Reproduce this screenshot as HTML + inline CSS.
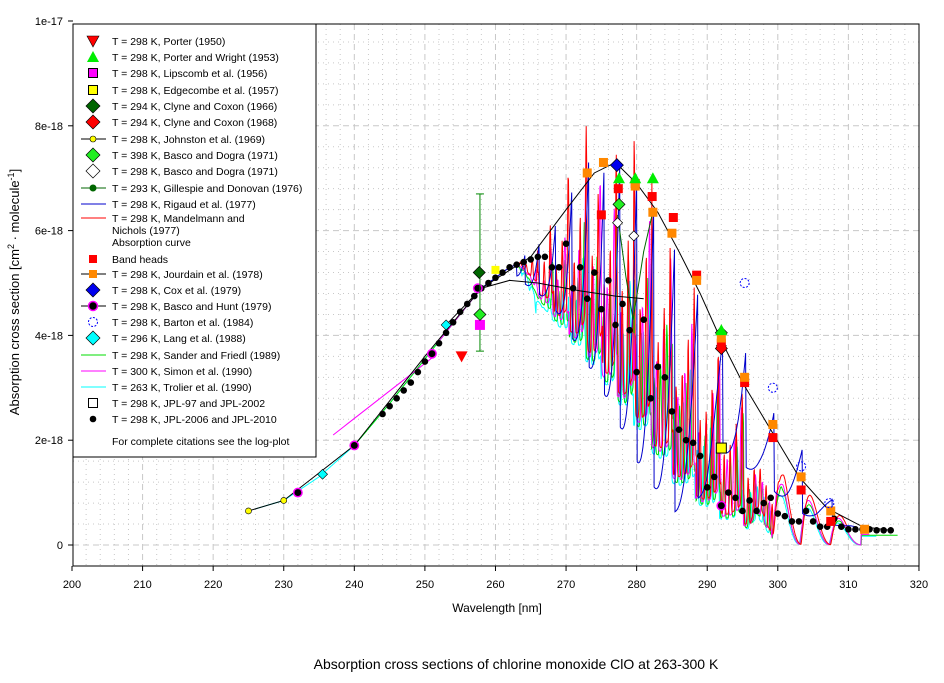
<!DOCTYPE html>
<html><head><meta charset="utf-8">
<style>
html,body{margin:0;padding:0;background:#fff;}
svg text{font-family:"Liberation Sans",Arial,sans-serif;}
</style></head>
<body>
<svg id="s" width="944" height="678" viewBox="0 0 944 678" xmlns="http://www.w3.org/2000/svg">
<rect width="944" height="678" fill="#fff"/>
<g id="grid"></g>
<g id="data"></g>
<rect x="73" y="24" width="846" height="542" fill="none" stroke="#000" stroke-width="1"/>
<g id="axes" font-size="11"></g>
<text x="497" y="612" font-size="12" text-anchor="middle">Wavelength [nm]</text>
<text transform="translate(19,292) rotate(-90)" font-size="13" text-anchor="middle">Absorption cross section [cm<tspan dy="-5" font-size="9">2</tspan><tspan dy="5"> · molecule</tspan><tspan dy="-5" font-size="9">-1</tspan><tspan dy="5">]</tspan></text>
<text x="516" y="669" font-size="14" text-anchor="middle">Absorption cross sections of chlorine monoxide ClO at 263-300 K</text>
<g id="legend" font-size="10.5"></g>
</svg>
<script>
var NS="http://www.w3.org/2000/svg";
function X(n){return 72+(n-200)*7.058;}
function Y(v){return 545-v*52.4;}
function el(p,t,a,txt){var e=document.createElementNS(NS,t);for(var k in a)e.setAttribute(k,a[k]);if(txt!==undefined)e.textContent=txt;document.getElementById(p).appendChild(e);return e;}
for(var n=202;n<320;n+=2){var maj=(n%10==0);el("grid","line",{x1:X(n),x2:X(n),y1:24,y2:566,stroke:"#c8c8c8","stroke-dasharray":maj?"6,4":"1,4","stroke-width":1});}
for(var v=-0.4;v<10;v+=0.4){var vv=Math.round(v*10)/10;var maj=Math.abs(vv/2-Math.round(vv/2))<0.01;el("grid","line",{x1:73,x2:919,y1:Y(vv),y2:Y(vv),stroke:"#c8c8c8","stroke-dasharray":maj?"6,4":"1,4"});}
for(var n=200;n<=320;n+=10){el("axes","line",{x1:X(n),x2:X(n),y1:566,y2:571,stroke:"#000"});el("axes","text",{x:X(n),y:588,"text-anchor":"middle"},String(n));}
[[0,"0"],[2,"2e-18"],[4,"4e-18"],[6,"6e-18"],[8,"8e-18"],[10,"1e-17"]].forEach(function(a){el("axes","line",{x1:68,x2:73,y1:Y(a[0]),y2:Y(a[0]),stroke:"#000"});el("axes","text",{x:63,y:Y(a[0])+4,"text-anchor":"end"},a[1]);});
var T=[[225,.65],[230,.85],[235,1.3],[240,1.9],[245,2.7],[250,3.55],[255,4.4],[258,4.9],[262,5.3],[266,5.5],[270,5.35],[274,5.0],[278,4.3],[281,3.4],[284,2.6],[287,2.0],[289,1.5],[291,1.0],[295,0.8],[300,0.6],[303,0.45],[306,0.4],[310,0.35],[316,0.28]];
function tab(A,n){if(n<=A[0][0])return A[0][1];for(var i=0;i<A.length-1;i++){if(n<=A[i+1][0]){var t=(n-A[i][0])/(A[i+1][0]-A[i][0]);return A[i][1]+t*(A[i+1][1]-A[i][1]);}}return A[A.length-1][1];}
function base(n){return tab(T,n);}
var UP=[[262,5.5],[266,6.0],[270,7.6],[273,8.4],[277,8.4],[280,8.2],[283,7.2],[286,6.3],[288.5,5.4],[292,4.1],[296,3.0],[299.5,2.1],[303.5,1.4],[307.5,0.9],[312,0.4]];
var LO=[[262,5.2],[266,4.7],[270,3.8],[275,2.8],[280,1.8],[285,0.8],[290,0.3],[295,0.1],[300,0.02],[312,0.0]];
var heads=[262,264,266,268.3,270.6,273,275.2,277.4,279.8,282.2,285.2,288.5,292,295.3,299.3,303.3,307.5,312];
function bandT(n){for(var i=0;i<heads.length-1;i++){if(n>=heads[i]&&n<heads[i+1])return (n-heads[i])/(heads[i+1]-heads[i]);}return 0.5;}
function spectrum(n,ph,per,amp,sh){var t=bandT(n+ph);var e=0.4+0.6*Math.pow(t,2);
 var sp=0.25+0.75*Math.pow(0.5+0.5*Math.cos(2*Math.PI*(n+ph)/per),sh);
 var w=Math.min(1,Math.max(0,(n-296)/5));var hump=Math.pow(Math.sin(Math.PI*Math.pow(t,0.6)),2);
 var u=tab(UP,n)*amp,l=tab(LO,n);
 return (1-w)*(l+(u-l)*e*sp)+w*(l+(u*0.75-l)*hump);}
function series(col,start,end,ph,per,amp,sh){var d="";for(var n=start;n<=end;n+=0.06){var v;if(n<263)v=base(n);else{var m=Math.min(1,(n-263)/3);v=(1-m)*base(n)+m*spectrum(n,ph,per,amp,sh);}d+=(d?"L":"M")+X(n).toFixed(1)+","+Y(Math.max(v,0)).toFixed(1);}el("data","path",{d:d,fill:"none",stroke:col,"stroke-width":1});}
series("#00ffff",226,314,0.25,0.95,0.72,3);
series("#00dd00",240,317,0.12,0.9,0.8,3);
series("#ff00ff",252,313,0.18,1.0,0.88,3);
series("#ff0000",262,310,0.0,0.85,1.0,4);
var d="";for(var n=237;n<=251;n+=0.5){var v=2.1+(n-237)*0.105;d+=(d?"L":"M")+X(n)+","+Y(v);}el("data","path",{d:d,fill:"none",stroke:"#ff00ff"});
var UPB=[[262,5.3],[268,6.0],[273,7.3],[277,7.3],[280,7.0],[282,6.5],[285,5.9],[288.5,5.0],[292,4.0],[295.5,3.76],[299.3,2.6],[303.5,1.85],[307.5,0.9],[311,0.4]];
var LOB=[[262,5.2],[268,4.6],[275,3.0],[280,1.6],[285,0.6],[290,1.0],[292,1.8],[297.5,1.3],[301.5,0.75],[305.5,0.45],[311,0.3]];
d="";for(var n=258;n<=311;n+=0.08){var v;if(n<263)v=base(n);else{var t=bandT(n-0.2);v=tab(LOB,n)+(tab(UPB,n)-tab(LOB,n))*Math.pow(t,2.5);}d+=(d?"L":"M")+X(n).toFixed(1)+","+Y(v).toFixed(1);}
el("data","path",{d:d,fill:"none",stroke:"#0000cc"});
var gp=[[277.3,6.3],[278.5,5.1],[279.5,4.3],[281,5.6],[282.2,6.3]];
d="";gp.forEach(function(p){d+=(d?"L":"M")+X(p[0])+","+Y(p[1]);});el("data","path",{d:d,fill:"none",stroke:"#060"});
var k1=[[253,4.2],[258,4.9],[262,5.05],[266,5.0],[272,4.85],[277,4.75],[281,4.7]];
d="";k1.forEach(function(p){d+=(d?"L":"M")+X(p[0])+","+Y(p[1]);});el("data","path",{d:d,fill:"none",stroke:"#000"});
var k2=[[225,.65],[230,.85],[240,1.9],[250,3.6],[258,4.9],[265,5.5],[270,6.4],[274,7.1],[277,7.3],[280,6.9],[283,6.35],[286,5.6],[289,4.8],[292,3.9],[295,3.1],[299,2.2],[303,1.3],[307,0.7],[312,0.35],[316,0.28]];
d="";k2.forEach(function(p){d+=(d?"L":"M")+X(p[0])+","+Y(p[1]);});el("data","path",{d:d,fill:"none",stroke:"#000"});
var jd=[[232,1.0],[235.5,1.35],[240,1.9],[244,2.5],[245,2.65],[246,2.8],[247,2.95],[248,3.1],[249,3.3],[250,3.5],[251,3.65],[252,3.85],[253,4.05],[254,4.25],[255,4.45],[256,4.6],[257,4.75],[258,4.9],[259,5.0],[260,5.1],[261,5.2],[262,5.3],[263,5.35],[264,5.4],[265,5.45],[266,5.5],[267,5.5],[268,5.3],[269,5.3],[270,5.75],[271,4.9],[272,5.3],[273,4.7],[274,5.2],[275,4.5],[276,5.05],[277,4.2],[278,4.6],[279,4.1],[280,3.3],[281,4.3],[282,2.8],[283,3.4],[284,3.2],[285,2.55],[286,2.2],[287,2.0],[288,1.95],[289,1.7],[290,1.1],[291,1.3],[292,0.75],[293,1.0],[294,0.9],[295,0.65],[296,0.85],[297,0.65],[298,0.8],[299,0.9],[300,0.6],[301,0.55],[302,0.45],[303,0.45],[304,0.65],[305,0.45],[306,0.35],[307,0.35],[308,0.5],[309,0.35],[310,0.3],[311,0.3],[312,0.3],[313,0.3],[314,0.28],[315,0.28],[316,0.28]];
jd.forEach(function(p){el("data","circle",{cx:X(p[0]),cy:Y(p[1]),r:3.3,fill:"#000"});});
[[225,.65],[230,.85]].forEach(function(p){el("data","circle",{cx:X(p[0]),cy:Y(p[1]),r:3,fill:"#ff0",stroke:"#000","stroke-width":.6});});
[[232,1.0],[240,1.9],[251,3.65],[257.5,4.9],[292,0.75]].forEach(function(p){el("data","circle",{cx:X(p[0]),cy:Y(p[1]),r:4.2,fill:"#000",stroke:"#f0f","stroke-width":1.5});});
[[235.5,1.35],[253,4.2]].forEach(function(p){var x=X(p[0]),y=Y(p[1]);el("data","polygon",{points:(x-5)+","+y+" "+x+","+(y-5)+" "+(x+5)+","+y+" "+x+","+(y+5),fill:"#0ff",stroke:"#000","stroke-width":.6});});
function sq(n,v,c,s){var x=X(n),y=Y(v);el("data","rect",{x:x-s,y:y-s,width:2*s,height:2*s,fill:c,stroke:"none"});}
function dia(n,v,c,s){var x=X(n),y=Y(v);el("data","polygon",{points:(x-s)+","+y+" "+x+","+(y-s)+" "+(x+s)+","+y+" "+x+","+(y+s),fill:c,stroke:"#000","stroke-width":.7});}
function tri(n,v,c,up){var x=X(n),y=Y(v);el("data","polygon",{points:up?(x-6)+","+(y+5)+" "+(x+6)+","+(y+5)+" "+x+","+(y-6):(x-6)+","+(y-5)+" "+(x+6)+","+(y-5)+" "+x+","+(y+6),fill:c,stroke:"none"});}
el("data","line",{x1:X(257.8),x2:X(257.8),y1:Y(6.7),y2:Y(3.7),stroke:"#080"});
el("data","line",{x1:X(257.8)-4,x2:X(257.8)+4,y1:Y(6.7),y2:Y(6.7),stroke:"#080"});
el("data","line",{x1:X(257.8)-4,x2:X(257.8)+4,y1:Y(3.7),y2:Y(3.7),stroke:"#080"});
tri(255.2,3.6,"#f00",false);
sq(257.8,4.2,"#f0f",5);
dia(257.7,5.2,"#060",6);
dia(257.8,4.4,"#2e2",6);
sq(260,5.25,"#ff0",4);
el("data","rect",{x:X(292)-5,y:Y(1.85)-5,width:10,height:10,fill:"#ff0",stroke:"#000"});
[[277.3,6.15],[279.6,5.9],[292,3.8]].forEach(function(p){dia(p[0],p[1],"#fff",5);});
dia(277.5,6.5,"#2e2",6);dia(292,4.05,"#2e2",6);
dia(292,3.75,"#f00",6);
[[275,6.3],[277.4,6.8],[279.8,6.9],[282.2,6.65],[285.2,6.25],[288.5,5.15],[292,3.85],[295.3,3.1],[299.3,2.05],[303.3,1.05],[307.5,0.45]].forEach(function(p){sq(p[0],p[1],"#f00",4.5);});
[[273,7.1],[275.3,7.3],[279.8,6.85],[282.3,6.35],[285,5.95],[288.5,5.05],[292,3.95],[295.3,3.2],[299.3,2.3],[303.3,1.3],[307.5,0.65],[312.3,0.3]].forEach(function(p){sq(p[0],p[1],"#f80",4.5);});
[[277.5,7.0],[279.8,7.0],[282.3,7.0],[292,4.1]].forEach(function(p){tri(p[0],p[1],"#0e0",true);});
dia(277.2,7.25,"#00e",6.5);
[[295.3,5.0],[299.3,3.0],[303.3,1.5],[307.3,0.8]].forEach(function(p){el("data","circle",{cx:X(p[0]),cy:Y(p[1]),r:4.5,fill:"none",stroke:"#00f","stroke-dasharray":"2,1.5"});});
el("legend","rect",{x:73,y:24,width:243,height:433,fill:"#fff",stroke:"#000"});
var L=[[41,"T = 298 K, Porter (1950)","tri_d"],[57,"T = 298  K, Porter and Wright (1953)","tri_u"],[73,"T = 298 K, Lipscomb et al. (1956)","sqm"],[90,"T = 298 K, Edgecombe et al. (1957)","sqy"],[106,"T = 294 K, Clyne and Coxon (1966)","dg"],[122,"T = 294 K, Clyne and Coxon (1968)","dr"],[139,"T = 298 K, Johnston et al. (1969)","john"],[155,"T = 398 K, Basco and Dogra (1971)","dlg"],[171,"T = 298 K, Basco and Dogra (1971)","dw"],[188,"T = 293 K, Gillespie and Donovan (1976)","gil"],[204,"T = 298 K, Rigaud et al. (1977)","lb"],[218,"T = 298 K, Mandelmann and","lr"],[230,"              Nichols (1977)",""],[242,"Absorption curve",""],[259,"Band heads","sqr"],[274,"T = 298 K, Jourdain et al. (1978)","jou"],[290,"T = 298 K, Cox et al. (1979)","db"],[306,"T = 298 K, Basco and Hunt (1979)","bh"],[322,"T = 298 K, Barton et al. (1984)","bar"],[338,"T = 296 K, Lang et al. (1988)","dc"],[355,"T = 298 K, Sander and Friedl (1989)","lg"],[371,"T = 300 K, Simon et al. (1990)","lm"],[387,"T = 263 K, Trolier et al. (1990)","lc"],[403,"T = 298 K, JPL-97 and JPL-2002","sqw"],[419,"T = 298 K, JPL-2006 and JPL-2010","dot"],[441,"For complete citations see the log-plot",""]];
L.forEach(function(e){var y=e[0],x=93;el("legend","text",{x:112,y:y+4,"xml:space":"preserve"},e[1]);
var s=e[2];function ln(c){el("legend","line",{x1:81,x2:106,y1:y,y2:y,stroke:c});}
function D(c,r){el("legend","polygon",{points:(x-r)+","+y+" "+x+","+(y-r)+" "+(x+r)+","+y+" "+x+","+(y+r),fill:c,stroke:"#000","stroke-width":.7});}
if(s=="tri_d")el("legend","polygon",{points:(x-6)+","+(y-5)+" "+(x+6)+","+(y-5)+" "+x+","+(y+6),fill:"#f00",stroke:"#000","stroke-width":.6});
if(s=="tri_u")el("legend","polygon",{points:(x-6)+","+(y+5)+" "+(x+6)+","+(y+5)+" "+x+","+(y-6),fill:"#0e0"});
if(s=="sqm")el("legend","rect",{x:x-4.5,y:y-4.5,width:9,height:9,fill:"#f0f",stroke:"#000"});
if(s=="sqy")el("legend","rect",{x:x-4.5,y:y-4.5,width:9,height:9,fill:"#ff0",stroke:"#000"});
if(s=="sqw")el("legend","rect",{x:x-4.5,y:y-4.5,width:9,height:9,fill:"#fff",stroke:"#000"});
if(s=="sqr")el("legend","rect",{x:x-4,y:y-4,width:8,height:8,fill:"#f00"});
if(s=="dg")D("#060",7);if(s=="dr")D("#f00",7);if(s=="dlg")D("#2e2",7);if(s=="dw")D("#fff",7);if(s=="db")D("#00e",7);if(s=="dc")D("#0ff",7);
if(s=="john"){ln("#000");el("legend","circle",{cx:x,cy:y,r:3,fill:"#ff0",stroke:"#000","stroke-width":.6});}
if(s=="gil"){ln("#060");el("legend","circle",{cx:x,cy:y,r:3.5,fill:"#060"});}
if(s=="jou"){ln("#000");el("legend","rect",{x:x-4,y:y-4,width:8,height:8,fill:"#f80"});}
if(s=="bh"){ln("#000");el("legend","circle",{cx:x,cy:y,r:4.5,fill:"#000",stroke:"#f0f","stroke-width":1.5});}
if(s=="bar")el("legend","circle",{cx:x,cy:y,r:4.5,fill:"none",stroke:"#00f","stroke-dasharray":"2,1.5"});
if(s=="lb")ln("#00c");if(s=="lr")ln("#f00");if(s=="lg")ln("#0d0");if(s=="lm")ln("#f0f");if(s=="lc")ln("#0ff");
if(s=="dot")el("legend","circle",{cx:x,cy:y,r:3.3,fill:"#000"});
});
</script>
</body></html>
